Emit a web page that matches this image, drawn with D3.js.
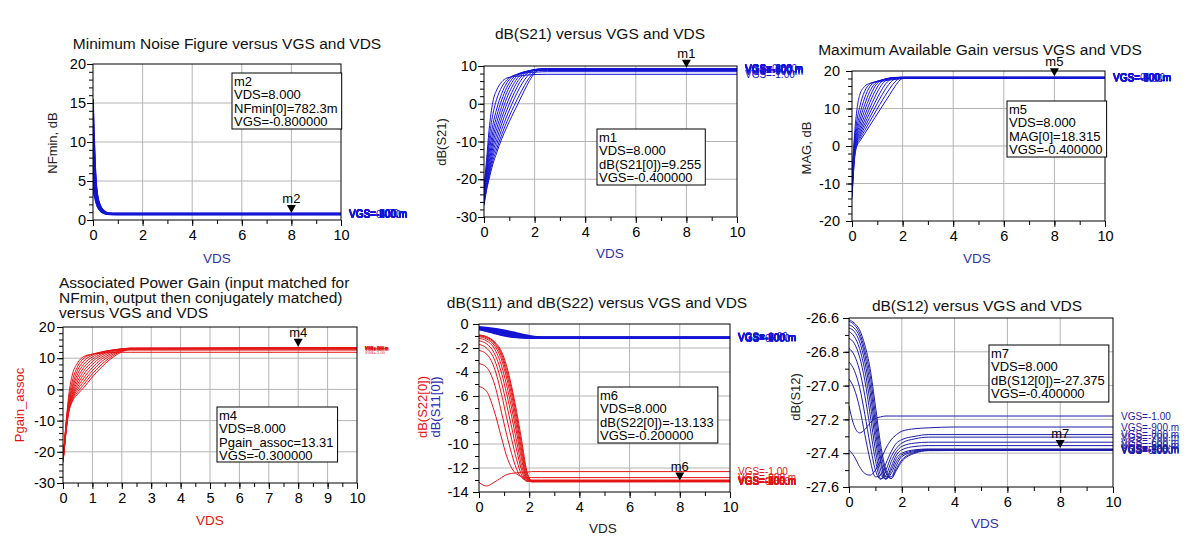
<!DOCTYPE html>
<html><head><meta charset="utf-8">
<script src="https://cdn.jsdelivr.net/npm/d3@7"></script>
<style>
body{margin:0;background:#fff}
svg{display:block}
text{font-family:"Liberation Sans",Arial,Helvetica,sans-serif}
</style>
</head><body>
<svg id="c" width="1194" height="557"></svg>
<script>
// ---------------- DATA ----------------
const vgsLabels = ["VGS=-1.00","VGS=-900.m","VGS=-800.m","VGS=-700.m","VGS=-600.m","VGS=-500.m","VGS=-400.m","VGS=-300.m","VGS=-200.m","VGS=-100.m","VGS=0.000"];

// Minimum noise figure (dB) vs VDS, one row per VGS
const nfVds = [0, 0.04, 0.08, 0.12, 0.16, 0.2, 0.3, 0.4, 0.5, 0.6, 0.8, 1.0, 10];
const nfMin = [
  [15.5, 11.0, 7.5, 5.0, 3.6, 2.8, 1.8, 1.30, 1.02, 0.90, 0.86, 0.86, 0.86],
  [14.6, 10.4, 7.1, 4.8, 3.5, 2.7, 1.75, 1.26, 1.00, 0.88, 0.84, 0.84, 0.84],
  [13.2, 9.6, 6.6, 4.5, 3.3, 2.6, 1.70, 1.22, 0.97, 0.85, 0.79, 0.78, 0.78],
  [12.0, 9.0, 6.1, 4.2, 3.1, 2.5, 1.62, 1.16, 0.94, 0.83, 0.78, 0.77, 0.77],
  [10.6, 8.1, 5.6, 4.0, 3.0, 2.4, 1.55, 1.11, 0.91, 0.81, 0.77, 0.76, 0.76],
  [9.2, 7.1, 5.1, 3.7, 2.8, 2.2, 1.48, 1.07, 0.89, 0.80, 0.76, 0.75, 0.75],
  [8.0, 6.2, 4.5, 3.4, 2.6, 2.1, 1.40, 1.04, 0.87, 0.79, 0.75, 0.74, 0.74],
  [6.6, 5.2, 4.0, 3.1, 2.4, 1.9, 1.32, 1.00, 0.85, 0.78, 0.74, 0.73, 0.73],
  [5.5, 4.5, 3.6, 2.8, 2.2, 1.8, 1.26, 0.97, 0.83, 0.77, 0.73, 0.72, 0.72],
  [4.6, 3.8, 3.1, 2.5, 2.0, 1.65, 1.20, 0.94, 0.82, 0.76, 0.72, 0.71, 0.71],
  [3.8, 3.3, 2.8, 2.3, 1.9, 1.6, 1.15, 0.92, 0.81, 0.75, 0.71, 0.70, 0.70]
];

// dB(S21)
const s21Vds = [0, 0.1, 0.2, 0.35, 0.5, 0.7, 0.9, 1.1, 1.3, 1.5, 1.7, 1.9, 2.1, 2.5, 10];
const s21Db = [
  [-22, -15, -7, 0.5, 3.6, 5.8, 6.8, 7.1, 7.3, 7.45, 7.6, 7.7, 7.75, 7.8, 7.8],
  [-22.5, -16.3, -9.5, -2.8, 1.2, 4.4, 6.3, 7.3, 7.7, 8.0, 8.2, 8.3, 8.4, 8.5, 8.5],
  [-23, -17.4, -11.4, -5.5, -1.4, 2.7, 5.5, 7.1, 7.8, 8.2, 8.5, 8.7, 8.8, 8.8, 8.8],
  [-23.5, -18.4, -13.0, -7.4, -3.3, 1.0, 4.3, 6.5, 7.7, 8.3, 8.6, 8.8, 8.95, 9.0, 9.0],
  [-24, -19.2, -14.4, -9.0, -5.0, -0.7, 3.0, 5.6, 7.3, 8.2, 8.6, 8.9, 9.05, 9.1, 9.1],
  [-24.5, -20, -15.6, -10.4, -6.6, -2.3, 1.5, 4.4, 6.6, 7.9, 8.6, 8.9, 9.1, 9.2, 9.2],
  [-25, -20.7, -16.7, -11.7, -8.1, -3.8, -0.1, 3.0, 5.6, 7.4, 8.4, 8.9, 9.15, 9.25, 9.255],
  [-25.5, -21.4, -17.7, -12.9, -9.5, -5.3, -1.7, 1.5, 4.3, 6.6, 8.0, 8.8, 9.15, 9.3, 9.3],
  [-26, -22, -18.5, -14, -10.8, -6.8, -3.3, -0.1, 2.8, 5.3, 7.2, 8.5, 9.1, 9.3, 9.3],
  [-26.5, -22.5, -19.2, -15, -12, -8.2, -4.8, -1.8, 1.0, 3.6, 6.0, 7.8, 8.9, 9.3, 9.3],
  [-27, -23, -20, -16, -13, -9.3, -6.2, -3.3, -0.6, 2.2, 4.9, 7.2, 8.7, 9.3, 9.3]
];

// Maximum available gain (dB)
const magVds = [0, 0.05, 0.1, 0.2, 0.3, 0.5, 0.7, 0.9, 1.1, 1.3, 1.5, 1.7, 1.9, 2.1, 10];
const magDb = [
  [-8, -2, 3, 10, 13.5, 15.9, 16.7, 17.0, 17.2, 17.4, 17.6, 17.75, 17.9, 18.0, 18.0],
  [-9, -3, 1.5, 7.0, 10.3, 14.6, 16.5, 17.1, 17.4, 17.65, 17.85, 17.95, 18.05, 18.1, 18.1],
  [-10, -4, 0.5, 5.2, 8.2, 12.8, 15.8, 17.0, 17.5, 17.75, 17.95, 18.05, 18.15, 18.2, 18.2],
  [-10.5, -4.5, 0, 4.0, 6.7, 11.0, 14.5, 16.6, 17.4, 17.8, 18.05, 18.15, 18.25, 18.3, 18.3],
  [-11, -5, -0.5, 3.2, 5.5, 9.5, 13.0, 15.8, 17.3, 17.85, 18.1, 18.2, 18.3, 18.3, 18.3],
  [-11.5, -5.5, -1, 2.5, 4.5, 8.1, 11.5, 14.5, 16.7, 17.8, 18.15, 18.25, 18.3, 18.3, 18.3],
  [-12, -6, -1.5, 1.9, 3.7, 6.9, 10.1, 13.0, 15.6, 17.3, 18.1, 18.3, 18.315, 18.315, 18.315],
  [-12.5, -6.5, -2, 1.4, 3.0, 5.9, 8.8, 11.5, 14.1, 16.3, 17.7, 18.2, 18.3, 18.3, 18.3],
  [-13, -7, -2.5, 0.9, 2.4, 5.0, 7.6, 10.1, 12.6, 14.9, 16.8, 17.9, 18.3, 18.3, 18.3],
  [-13.5, -7.5, -3, 0.5, 1.8, 4.1, 6.5, 8.8, 11.1, 13.3, 15.4, 17.1, 18.1, 18.3, 18.3],
  [-14, -8, -3.5, 0.1, 1.2, 3.3, 5.4, 7.5, 9.6, 11.7, 13.8, 15.9, 17.6, 18.2, 18.3]
];

// Associated power gain (dB)
const pgVds = [0, 0.05, 0.1, 0.15, 0.2, 0.3, 0.5, 0.7, 1.0, 1.3, 1.6, 2.0, 2.3, 10];
const pgDb = [
  [-22, -17, -11, -6, -1.5, 4, 8.5, 10.5, 11.3, 11.6, 11.8, 11.9, 11.9, 11.9],
  [-22, -17, -11.5, -7, -3, 2, 7.4, 9.9, 11.3, 11.9, 12.3, 12.5, 12.6, 12.6],
  [-22, -17.2, -12, -7.5, -4, 0.6, 6.2, 9.0, 11.0, 12.0, 12.5, 12.8, 12.9, 12.9],
  [-22, -17.4, -12.2, -8, -4.5, -0.4, 5.0, 8.0, 10.4, 11.8, 12.5, 12.9, 13.0, 13.0],
  [-22.2, -17.6, -12.5, -8.4, -5, -1.2, 3.8, 6.9, 9.7, 11.4, 12.4, 13.0, 13.1, 13.1],
  [-22.4, -17.8, -12.7, -8.7, -5.5, -1.9, 2.7, 5.8, 8.9, 10.9, 12.2, 13.0, 13.2, 13.2],
  [-22.6, -18, -13, -9, -5.9, -2.5, 1.7, 4.7, 8.0, 10.3, 11.8, 12.9, 13.2, 13.25],
  [-22.8, -18.2, -13.2, -9.3, -6.3, -3.0, 0.8, 3.6, 7.0, 9.6, 11.3, 12.7, 13.2, 13.31],
  [-23, -18.4, -13.5, -9.6, -6.6, -3.5, 0, 2.5, 6.0, 8.8, 10.8, 12.5, 13.1, 13.3],
  [-23.2, -18.6, -13.7, -9.9, -6.9, -3.9, -0.8, 1.5, 5.0, 7.9, 10.2, 12.3, 13.0, 13.3],
  [-23.4, -18.8, -14, -10.2, -7.2, -4.3, -1.5, 0.5, 4.0, 7.0, 9.6, 12.0, 12.9, 13.3]
];

// dB(S11)
const s11Vds = [0, 0.3, 0.6, 0.9, 1.2, 1.5, 1.8, 2.1, 2.5, 10];
const s11Db = [
  [-0.25, -0.30, -0.38, -0.48, -0.60, -0.75, -0.90, -1.02, -1.08, -1.08],
  [-0.27, -0.33, -0.42, -0.53, -0.67, -0.82, -0.96, -1.05, -1.10, -1.10],
  [-0.29, -0.36, -0.46, -0.58, -0.73, -0.88, -1.00, -1.08, -1.12, -1.12],
  [-0.31, -0.39, -0.50, -0.63, -0.79, -0.93, -1.03, -1.10, -1.13, -1.13],
  [-0.33, -0.42, -0.54, -0.68, -0.84, -0.97, -1.06, -1.12, -1.14, -1.14],
  [-0.35, -0.45, -0.58, -0.73, -0.88, -1.00, -1.08, -1.13, -1.15, -1.15],
  [-0.37, -0.48, -0.62, -0.78, -0.92, -1.03, -1.10, -1.14, -1.15, -1.15],
  [-0.39, -0.51, -0.66, -0.82, -0.96, -1.06, -1.12, -1.15, -1.16, -1.16],
  [-0.41, -0.54, -0.70, -0.86, -0.99, -1.08, -1.13, -1.15, -1.16, -1.16],
  [-0.43, -0.57, -0.74, -0.90, -1.02, -1.10, -1.14, -1.16, -1.17, -1.17],
  [-0.45, -0.60, -0.78, -0.94, -1.05, -1.12, -1.15, -1.16, -1.17, -1.17]
];

// dB(S22)
const s22Vds = [0, 0.3, 0.6, 0.9, 1.1, 1.3, 1.5, 1.7, 1.9, 2.1, 2.5, 10];
const s22Db = [
  [-13.2, -13.5, -13.2, -12.8, -12.55, -12.45, -12.4, -12.35, -12.35, -12.3, -12.3, -12.3],
  [-5.2, -5.6, -7.2, -9.5, -11.0, -12.0, -12.5, -12.7, -12.8, -12.8, -12.8, -12.8],
  [-3.3, -3.6, -4.9, -7.4, -9.2, -10.8, -12.1, -12.8, -13.0, -13.0, -13.0, -13.0],
  [-2.2, -2.5, -3.6, -5.9, -7.8, -9.6, -11.3, -12.6, -13.1, -13.05, -13.05, -13.05],
  [-1.7, -2.0, -2.9, -4.9, -6.7, -8.6, -10.5, -12.2, -13.1, -13.1, -13.1, -13.1],
  [-1.4, -1.65, -2.4, -4.1, -5.8, -7.7, -9.8, -11.8, -13.0, -13.1, -13.1, -13.1],
  [-1.2, -1.4, -2.0, -3.5, -5.1, -7.0, -9.1, -11.3, -12.9, -13.13, -13.13, -13.13],
  [-1.05, -1.25, -1.75, -3.0, -4.5, -6.4, -8.6, -10.9, -12.8, -13.15, -13.15, -13.15],
  [-0.98, -1.15, -1.6, -2.7, -4.1, -5.9, -8.1, -10.5, -12.6, -13.15, -13.14, -13.133],
  [-0.94, -1.08, -1.5, -2.5, -3.8, -5.5, -7.7, -10.1, -12.4, -13.1, -13.13, -13.13],
  [-0.92, -1.05, -1.45, -2.3, -3.5, -5.2, -7.3, -9.7, -12.2, -13.05, -13.1, -13.1]
];

// dB(S12)
const s12Vds = [0, 0.2, 0.4, 0.6, 0.8, 1.0, 1.2, 1.4, 1.6, 1.8, 2.0, 2.5, 3.0, 4.0, 10];
const s12Db = [
  [-27.12, -27.24, -27.28, -27.26, -27.22, -27.195, -27.185, -27.18, -27.18, -27.18, -27.18, -27.18, -27.18, -27.18, -27.18],
  [-27.38, -27.42, -27.48, -27.52, -27.53, -27.50, -27.44, -27.37, -27.32, -27.29, -27.27, -27.255, -27.25, -27.245, -27.245],
  [-26.96, -27.02, -27.13, -27.29, -27.44, -27.54, -27.53, -27.46, -27.39, -27.34, -27.32, -27.30, -27.29, -27.29, -27.29],
  [-26.86, -26.91, -27.01, -27.17, -27.35, -27.50, -27.555, -27.50, -27.42, -27.37, -27.34, -27.315, -27.305, -27.305, -27.305],
  [-26.78, -26.82, -26.91, -27.06, -27.25, -27.44, -27.55, -27.53, -27.45, -27.39, -27.36, -27.34, -27.335, -27.335, -27.335],
  [-26.72, -26.75, -26.83, -26.97, -27.17, -27.38, -27.53, -27.55, -27.48, -27.41, -27.38, -27.36, -27.355, -27.355, -27.355],
  [-26.68, -26.71, -26.78, -26.91, -27.10, -27.32, -27.50, -27.555, -27.50, -27.43, -27.40, -27.38, -27.375, -27.375, -27.375],
  [-26.66, -26.68, -26.74, -26.86, -27.04, -27.27, -27.46, -27.55, -27.52, -27.45, -27.41, -27.385, -27.378, -27.378, -27.378],
  [-26.64, -26.66, -26.71, -26.82, -26.99, -27.22, -27.43, -27.54, -27.54, -27.47, -27.42, -27.39, -27.38, -27.38, -27.38],
  [-26.62, -26.64, -26.69, -26.79, -26.94, -27.17, -27.39, -27.52, -27.55, -27.49, -27.44, -27.395, -27.383, -27.382, -27.382],
  [-26.61, -26.63, -26.67, -26.76, -26.90, -27.12, -27.35, -27.50, -27.55, -27.50, -27.45, -27.40, -27.385, -27.384, -27.384]
];

// Markers
const markerNames = ["m2", "m1", "m5", "m4", "m6", "m7"];
const markerVds = [8, 8, 8, 8, 8, 8];
const markerValues = [0.7823, 9.255, 18.315, 13.31, -13.133, -27.375];
const markerTexts = [
  ["m2", "VDS=8.000", "NFmin[0]=782.3m", "VGS=-0.800000"],
  ["m1", "VDS=8.000", "dB(S21[0])=9.255", "VGS=-0.400000"],
  ["m5", "VDS=8.000", "MAG[0]=18.315", "VGS=-0.400000"],
  ["m4", "VDS=8.000", "Pgain_assoc=13.31", "VGS=-0.300000"],
  ["m6", "VDS=8.000", "dB(S22[0])=-13.133", "VGS=-0.200000"],
  ["m7", "VDS=8.000", "dB(S12[0])=-27.375", "VGS=-0.400000"]
];

// Tick values
const vdsTicks2 = [0, 2, 4, 6, 8, 10];
const vdsTicks1 = [0, 1, 2, 3, 4, 5, 6, 7, 8, 9, 10];
const nfTicks = [0, 5, 10, 15, 20];
const s21Ticks = [-30, -20, -10, 0, 10];
const magTicks = [-20, -10, 0, 10, 20];
const pgTicks = [-30, -20, -10, 0, 10, 20];
const s11Ticks = [-14, -12, -10, -8, -6, -4, -2, 0];
const s12Ticks = [-27.6, -27.4, -27.2, -27.0, -26.8, -26.6];

// ---------------- DRAWING ----------------
const FONT = '"Liberation Sans", Arial, Helvetica, sans-serif';
const BLUE = "#1414d4";
const NAVY = "#1c1ca4";
const RED = "#e41414";
const svg = d3.select("#c");
svg.append("rect").attr("width", 1194).attr("height", 557).attr("fill", "#fff");

function minorTicks(domain, step) {
  const n = Math.round((domain[1] - domain[0]) / step);
  return d3.range(n + 1).map(i => +(domain[0] + i * step).toFixed(4));
}

let clipN = 0;
function drawPanel(p) {
  const [X0, X1, Y0, Y1] = p.box;
  const x = d3.scaleLinear().domain([0, 10]).range([X0, X1]);
  const y = d3.scaleLinear().domain(p.yd).range([Y1, Y0]);
  const g = svg.append("g");

  // grid
  g.append("g").selectAll("line").data(p.xTicks.filter(v => v > 0 && v < 10)).join("line")
    .attr("x1", d => x(d)).attr("x2", d => x(d)).attr("y1", Y0).attr("y2", Y1)
    .attr("stroke", "#b4b4b4").attr("stroke-width", 1);
  g.append("g").selectAll("line").data(p.yTicks.filter(v => v > p.yd[0] + 1e-9 && v < p.yd[1] - 1e-9)).join("line")
    .attr("x1", X0).attr("x2", X1).attr("y1", d => y(d)).attr("y2", d => y(d))
    .attr("stroke", "#b4b4b4").attr("stroke-width", 1);

  // axes
  const styleAxis = sel => {
    sel.attr("font-size", 14.5).attr("font-family", FONT).attr("color", "#000");
    sel.select(".domain").remove();
  };
  g.append("g").attr("transform", `translate(0,${Y1})`)
    .call(d3.axisBottom(x).tickValues(minorTicks([0, 10], p.xMinor)).tickSize(4).tickFormat(""))
    .call(styleAxis);
  g.append("g").attr("transform", `translate(0,${Y1})`)
    .call(d3.axisBottom(x).tickValues(p.xTicks).tickSize(6).tickPadding(3.5).tickFormat(d => String(d)))
    .call(styleAxis);
  g.append("g").attr("transform", `translate(${X0},0)`)
    .call(d3.axisLeft(y).tickValues(minorTicks(p.yd, p.yMinor)).tickSize(4).tickFormat(""))
    .call(styleAxis);
  g.append("g").attr("transform", `translate(${X0},0)`)
    .call(d3.axisLeft(y).tickValues(p.yTicks).tickSize(6).tickPadding(p.yGap - 6).tickFormat(p.yFmt || (d => String(d))))
    .call(styleAxis);

  // series
  const cid = "clip" + (clipN++);
  svg.append("clipPath").attr("id", cid).append("rect")
    .attr("x", X0).attr("y", Y0 - 1).attr("width", X1 - X0).attr("height", Y1 - Y0 + 2);
  const lg = g.append("g").attr("clip-path", `url(#${cid})`);
  p.series.forEach(s => {
    const line = d3.line().x((d, i) => x(s.vds[i])).y(d => y(d)).curve(d3.curveMonotoneX);
    lg.selectAll(null).data(s.values).join("path")
      .attr("d", line).attr("fill", "none").attr("stroke", s.color).attr("stroke-width", s.width);
    // end labels (overlapping, as in the original plot)
    g.append("g").selectAll("text").data(s.values).join("text")
      .attr("x", X1 + 8).attr("y", d => y(d[d.length - 1]) + s.labelSize * 0.35)
      .attr("font-size", s.labelSize).attr("fill", s.color)
      .text((d, i) => vgsLabels[i]);
  });

  // frame
  g.append("rect").attr("x", X0).attr("y", Y0).attr("width", X1 - X0).attr("height", Y1 - Y0)
    .attr("fill", "none").attr("stroke", "#000").attr("stroke-width", 1);

  // marker
  const m = p.marker;
  const mx = x(markerVds[m]);
  const apex = y(markerValues[m]) - 1;
  g.append("path").attr("d", `M${mx - 4.5},${apex - 8}L${mx + 4.5},${apex - 8}L${mx},${apex}Z`).attr("fill", "#000");
  g.append("text").attr("x", mx).attr("y", apex - 10).attr("text-anchor", "middle")
    .attr("font-size", 13).attr("fill", "#000").text(markerNames[m]);
  const mb = g.append("g");
  const rect = mb.append("rect").attr("fill", "#fff").attr("stroke", "#000").attr("stroke-width", 1);
  const texts = mb.selectAll("text").data(markerTexts[m]).join("text")
    .attr("x", p.mbox[0] + 2).attr("y", (d, i) => p.mbox[1] + 12.5 + i * 13.5)
    .attr("font-size", 13).attr("fill", "#000").text(d => d);
  let w = 0;
  texts.each(function () { w = Math.max(w, this.getComputedTextLength()); });
  rect.attr("x", p.mbox[0]).attr("y", p.mbox[1]).attr("width", w + 6).attr("height", p.mbox[2]);

  // titles
  p.title.forEach(t => {
    g.append("text").attr("x", t.x).attr("y", t.y).attr("text-anchor", t.anchor || "middle")
      .attr("font-size", 15.5).attr("fill", "#111").text(t.text);
  });
  // axis labels
  g.append("text").attr("x", p.xLabel.x).attr("y", p.xLabel.y).attr("text-anchor", "middle")
    .attr("font-size", 13.5).attr("fill", p.xLabel.color).text("VDS");
  p.yLabels.forEach(l => {
    g.append("text").attr("transform", `translate(${l.x},${l.y}) rotate(-90)`)
      .attr("text-anchor", "middle").attr("font-size", 13).attr("fill", l.color).text(l.text);
  });
}

drawPanel({
  box: [93, 341, 64, 220], yd: [0, 20], xTicks: vdsTicks2, xMinor: 1, yTicks: nfTicks, yMinor: 1, yGap: 7,
  series: [{ vds: nfVds, values: nfMin, color: BLUE, width: 1.6, labelSize: 10 }],
  marker: 0, mbox: [232, 73, 56],
  title: [{ x: 227, y: 49, text: "Minimum Noise Figure versus VGS and VDS" }],
  xLabel: { x: 217, y: 263, color: "#3232a8" },
  yLabels: [{ x: 57, y: 143, text: "NFmin, dB", color: "#222" }]
});

drawPanel({
  box: [484, 737, 66, 217], yd: [-30, 10], xTicks: vdsTicks2, xMinor: 1, yTicks: s21Ticks, yMinor: 2, yGap: 7,
  series: [{ vds: s21Vds, values: s21Db, color: BLUE, width: 1, labelSize: 10 }],
  marker: 1, mbox: [597, 129, 56],
  title: [{ x: 600, y: 39, text: "dB(S21) versus VGS and VDS" }],
  xLabel: { x: 610, y: 258, color: "#3232a8" },
  yLabels: [{ x: 446, y: 142, text: "dB(S21)", color: "#222" }]
});

drawPanel({
  box: [852, 1105, 71, 221], yd: [-20, 20], xTicks: vdsTicks2, xMinor: 1, yTicks: magTicks, yMinor: 2, yGap: 12,
  series: [{ vds: magVds, values: magDb, color: BLUE, width: 1, labelSize: 10 }],
  marker: 2, mbox: [1007, 101, 56],
  title: [{ x: 980, y: 55, text: "Maximum Available Gain versus VGS and VDS" }],
  xLabel: { x: 977, y: 263, color: "#3232a8" },
  yLabels: [{ x: 811, y: 148, text: "MAG, dB", color: "#222" }]
});

drawPanel({
  box: [63, 357, 327, 483], yd: [-30, 20], xTicks: vdsTicks1, xMinor: 0.5, yTicks: pgTicks, yMinor: 2, yGap: 8,
  series: [{ vds: pgVds, values: pgDb, color: RED, width: 1, labelSize: 4 }],
  marker: 3, mbox: [217, 407, 55],
  title: [
    { x: 59, y: 288, anchor: "start", text: "Associated Power Gain (input matched for" },
    { x: 59, y: 303, anchor: "start", text: "NFmin, output then conjugately matched)" },
    { x: 59, y: 318, anchor: "start", text: "versus VGS and VDS" }
  ],
  xLabel: { x: 210, y: 525, color: RED },
  yLabels: [{ x: 24, y: 405, text: "Pgain_assoc", color: RED }]
});

drawPanel({
  box: [479, 730, 324, 492], yd: [-14, 0], xTicks: vdsTicks2, xMinor: 1, yTicks: s11Ticks, yMinor: 1, yGap: 10.5,
  series: [
    { vds: s22Vds, values: s22Db, color: RED, width: 1, labelSize: 10 },
    { vds: s11Vds, values: s11Db, color: BLUE, width: 1.6, labelSize: 10 }
  ],
  marker: 4, mbox: [598, 387, 56],
  title: [{ x: 597, y: 308, text: "dB(S11) and dB(S22) versus VGS and VDS" }],
  xLabel: { x: 603, y: 533, color: "#222" },
  yLabels: [
    { x: 427, y: 407, text: "dB(S22[0])", color: RED },
    { x: 440, y: 407, text: "dB(S11[0])", color: "#2a2ab0" }
  ]
});

drawPanel({
  box: [849, 1113, 318, 487], yd: [-27.6, -26.6], xTicks: vdsTicks2, xMinor: 1, yTicks: s12Ticks, yMinor: 0.1, yGap: 10,
  yFmt: d => d.toFixed(1),
  series: [{ vds: s12Vds, values: s12Db, color: NAVY, width: 1, labelSize: 10 }],
  marker: 5, mbox: [989, 345, 57],
  title: [{ x: 977, y: 311, text: "dB(S12) versus VGS and VDS" }],
  xLabel: { x: 985, y: 528, color: "#3232a8" },
  yLabels: [{ x: 800, y: 397, text: "dB(S12)", color: "#222" }]
});
</script>
</body></html>
